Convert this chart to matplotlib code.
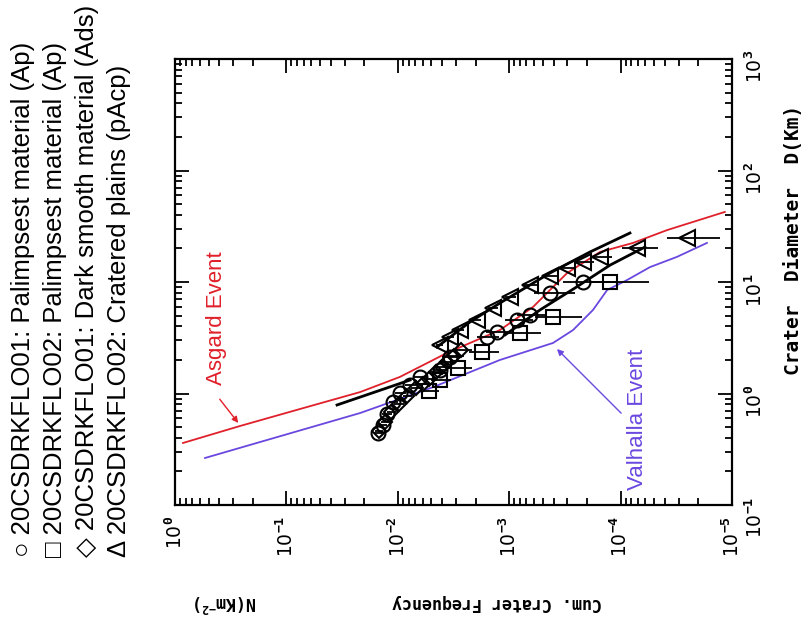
import numpy as np
import matplotlib
matplotlib.use('Agg')
import matplotlib.pyplot as plt
from matplotlib.ticker import FixedLocator, LogLocator, NullFormatter

plt.rcParams['mathtext.fontset'] = 'custom'
plt.rcParams['mathtext.rm'] = 'DejaVu Sans Mono:bold'
plt.rcParams['mathtext.it'] = 'DejaVu Sans Mono:bold'
plt.rcParams['mathtext.bf'] = 'DejaVu Sans Mono:bold'

# ---------------- data (N in km^-2, D in km) ----------------
asgard_N = [0.848, 0.261, 0.0755, 0.0218, 0.00955, 0.00362, 0.00121, 0.000611,
            0.00043, 0.000303, 0.000153, 7.74e-5, 3.83e-5, 1.16e-5]
asgard_D = [0.360, 0.511, 0.726, 1.03, 1.41, 2.31, 3.71, 5.97,
            8.48, 12.0, 18.6, 22.4, 29.2, 42.5]

valhalla_N = [0.538, 0.1726, 0.0218, 0.00483, 0.00121, 0.000404, 0.000267,
              0.000177, 0.000132, 8.77e-5, 5.45e-5, 3.12e-5, 1.68e-5]
valhalla_D = [0.264, 0.367, 0.668, 1.14, 2.0, 2.84, 3.71,
              5.61, 8.48, 10.4, 13.6, 16.8, 22.4]

fit1_N = [0.00445, 0.00225, 0.00121, 0.00043, 0.000188, 8.24e-5]
fit1_D = [2.61, 4.38, 6.48, 12.05, 18.6, 27.5]
fit2_N = [0.00109, 0.00053, 0.000257, 0.000124, 6.04e-5]
fit2_D = [3.35, 5.61, 8.83, 14.2, 20.6]
fit3_N = [0.0351, 0.00777]
fit3_D = [0.789, 1.32]

circ_N = [0.0151, 0.0136, 0.0125, 0.0110, 0.00955, 0.00777, 0.00632, 0.00418,
          0.0034, 0.00158, 0.00129, 0.000851, 0.00065, 0.00043, 0.000218]
circ_D = [0.443, 0.52, 0.655, 0.84, 1.01, 1.19, 1.41, 1.62,
          2.12, 3.21, 3.56, 4.56, 5.06, 7.96, 10.0]
circ_err = [0.08, 0.09, 0.1, 0.1, 0.12, 0.12, 0.14, 0.16,
            0.18, 0.22, 0.24, 0.28, 0.3, 0.4, 0.5]

sq_N = [0.0052, 0.00418, 0.00288, 0.00175, 0.0008, 0.000404, 0.000124]
sq_D = [1.05, 1.32, 1.69, 2.35, 3.49, 4.86, 10.0]
sq_err = [0.18, 0.2, 0.25, 0.3, 0.35, 0.45, 0.55]

dia_N = [0.0148, 0.013, 0.0115, 0.0098, 0.0082, 0.0068, 0.0060, 0.0052,
         0.0045, 0.0040, 0.0036, 0.0031, 0.0027]
dia_D = [0.46, 0.55, 0.68, 0.80, 0.95, 1.12, 1.22, 1.35,
         1.55, 1.72, 1.90, 2.15, 2.45]
dia_err = [0.08, 0.08, 0.09, 0.1, 0.1, 0.12, 0.12, 0.13, 0.14, 0.15, 0.16, 0.18, 0.2]

tri_N = [0.0042, 0.0034, 0.00277, 0.00195, 0.0014, 0.000984, 0.00065, 0.00043,
         0.000303, 0.000218, 0.000153, 7.13e-5, 2.54e-5]
tri_D = [2.75, 3.2, 3.71, 4.56, 5.85, 7.33, 9.4, 11.3, 13.4, 15.1, 16.8, 20.2, 24.8]
tri_err = [0.07, 0.07, 0.08, 0.09, 0.1, 0.11, 0.13, 0.15, 0.17, 0.2, 0.22, 0.35, 0.5]

N_ticks = [1, 1e-1, 1e-2, 1e-3, 1e-4, 1e-5]
N_labels = ['10$^{0}$', '10$^{-1}$', '10$^{-2}$', '10$^{-3}$', '10$^{-4}$', '10$^{-5}$']
D_ticks = [0.1, 1, 10, 100, 1000]
D_labels = ['10$^{-1}$', '10$^{0}$', '10$^{1}$', '10$^{2}$', '10$^{3}$']

legend_lines = ['\u25cb 20CSDRKFLO01: Palimpsest material (Ap)',
                '\u25a1 20CSDRKFLO02: Palimpsest material (Ap)',
                '\u25c7 20CSDRKFLO01: Dark smooth material (Ads)',
                '\u0394 20CSDRKFLO02: Cratered plains (pAcp)']

RED = '#e0202a'
BLUE = '#6a48e0'

W, H = 811, 628
fig = plt.figure(figsize=(W / 100, H / 100), dpi=100)
ax = fig.add_axes([175 / W, 1 - 505 / H, 557 / W, 446 / H])
ax.set_xscale('log')
ax.set_yscale('log')
ax.set_xlim(1, 1e-5)
ax.set_ylim(0.1, 1000)

# curves
ax.plot(asgard_N, asgard_D, color=RED, lw=1.3, zorder=3)
ax.plot(valhalla_N, valhalla_D, color=BLUE, lw=1.3, zorder=3)
for fn, fd in [(fit1_N, fit1_D), (fit2_N, fit2_D), (fit3_N, fit3_D)]:
    ax.plot(fn, fd, color='black', lw=2.0, zorder=4)


def eb(N, D, r, marker, ms):
    N = np.asarray(N)
    r = np.asarray(r)
    lo = N * r
    hi = N * r
    ax.errorbar(N, D, xerr=[lo, hi], fmt=marker, mfc='none', mec='black',
                mew=1.5, ms=ms, ecolor='black', elinewidth=1.3, capsize=0, zorder=5)


eb(circ_N, circ_D, circ_err, 'o', 10)
eb(sq_N, sq_D, sq_err, 's', 10)
eb(dia_N, dia_D, dia_err, 'D', 7)
eb(tri_N, tri_D, tri_err, '<', 11)

# annotations
ax.text(0.0754, 0.419, 'Asgard Event', transform=ax.transAxes, rotation=90,
        ha='center', va='center', color=RED, fontsize=16, family='Liberation Sans')
ax.annotate('', xy=(0.261, 0.52), xytext=(0.411, 0.93),
            arrowprops=dict(arrowstyle='-|>', color=RED, lw=1.0, mutation_scale=9))
ax.text(0.831, 0.193, 'Valhalla Event', transform=ax.transAxes, rotation=90,
        ha='center', va='center', color=BLUE, fontsize=16, family='Liberation Sans')
ax.annotate('', xy=(3.88e-4, 2.61), xytext=(9.5e-5, 0.64),
            arrowprops=dict(arrowstyle='-|>', color=BLUE, lw=1.0, mutation_scale=9))

# ticks
ax.xaxis.set_major_locator(FixedLocator(N_ticks))
ax.set_xticklabels(N_labels)
ax.xaxis.set_minor_locator(LogLocator(base=10, subs=np.arange(2, 10)))
ax.xaxis.set_minor_formatter(NullFormatter())
ax.yaxis.set_major_locator(FixedLocator(D_ticks))
ax.set_yticklabels(D_labels)
ax.yaxis.set_minor_locator(LogLocator(base=10, subs=np.arange(2, 10)))
ax.yaxis.set_minor_formatter(NullFormatter())
ax.tick_params(which='both', direction='in', top=True, bottom=True, left=True, right=True,
               labelleft=False, labelright=True, labelbottom=True, width=1.3)
ax.tick_params(which='major', length=10)
ax.tick_params(which='minor', length=5)
ax.tick_params(axis='x', labelrotation=90, labelsize=13.5, pad=8)
ax.tick_params(axis='y', labelrotation=90, labelsize=13.5, pad=9)
for s in ax.spines.values():
    s.set_linewidth(1.6)

# axis labels
fig.text(497 / W, 1 - 603 / H, 'Cum. Crater Frequency', rotation=180, ha='center', va='center',
         fontsize=12, family='DejaVu Sans Mono', fontweight='bold')
fig.text(225 / W, 1 - 603 / H, 'N(Km$^{-2}$)', rotation=180, ha='center', va='center',
         fontsize=12, family='DejaVu Sans Mono', fontweight='bold')
fig.text(793 / W, 1 - 240 / H, 'Crater  Diameter  D(Km)', rotation=90, ha='center', va='center',
         fontsize=14, family='DejaVu Sans Mono', fontweight='bold')

# legend (rotated text)
for i, s in enumerate(legend_lines):
    fig.text((23 + 32 * i) / W, 1 - 557 / H, s, rotation=90, ha='center', va='bottom',
             fontsize=18.5, family=['Liberation Sans', 'DejaVu Sans'])

fig.savefig('out.png', dpi=100)
